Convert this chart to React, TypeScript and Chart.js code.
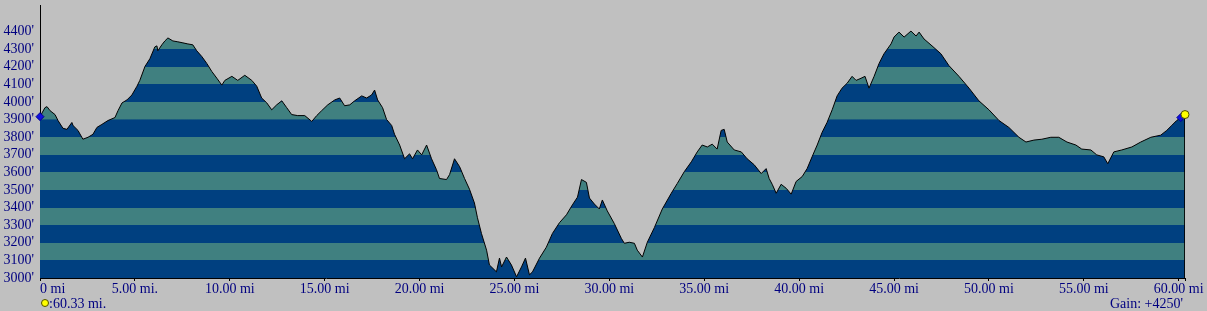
import React, { useEffect, useRef } from 'react';
import { Chart, registerables } from 'chart.js';

Chart.register(...registerables);

// Distance along the route (miles)
const miles = [
  0, 0.26, 0.37, 0.53, 0.79, 0.95, 1.21, 1.42, 1.68, 1.74, 2.0, 2.26, 2.53, 2.79, 3.0, 3.26, 3.58, 3.95,
  4.11, 4.32, 4.58, 4.84, 5.11, 5.26, 5.53, 5.79, 6.05, 6.16, 6.21, 6.42, 6.58, 6.74, 7.0, 7.26, 7.53, 7.79,
  8.05, 8.26, 8.53, 8.79, 9.05, 9.32, 9.58, 9.74, 10.11, 10.42, 10.79, 11.16, 11.42, 11.68, 11.95, 12.21,
  12.47, 12.74, 13.0, 13.26, 13.58, 13.95, 14.32, 14.58, 14.84, 15.16, 15.53, 15.79, 16.05, 16.32, 16.58,
  16.95, 17.21, 17.47, 17.63, 17.79, 18.05, 18.26, 18.53, 18.68, 18.95, 19.21, 19.47, 19.63, 19.89, 20.11,
  20.37, 20.63, 20.89, 21.05, 21.42, 21.58, 21.84, 22.11, 22.37, 22.63, 22.89, 23.05, 23.26, 23.53, 23.68,
  24.05, 24.21, 24.32, 24.58, 24.84, 25.11, 25.37, 25.58, 25.79, 25.95, 26.32, 26.68, 27.0, 27.37, 27.74,
  28.05, 28.32, 28.53, 28.79, 28.95, 29.21, 29.47, 29.63, 29.89, 30.26, 30.63, 30.79, 31.05, 31.32, 31.47,
  31.74, 32.0, 32.37, 32.79, 33.26, 33.58, 33.95, 34.32, 34.63, 34.89, 35.16, 35.42, 35.68, 35.89, 36.05,
  36.21, 36.58, 36.95, 37.26, 37.63, 38.0, 38.26, 38.42, 38.58, 38.79, 39.05, 39.32, 39.58, 39.84, 40.16,
  40.42, 40.68, 40.95, 41.21, 41.47, 41.74, 42.0, 42.26, 42.53, 42.79, 43.0, 43.26, 43.47, 43.68, 43.95,
  44.21, 44.47, 44.84, 45.0, 45.26, 45.53, 45.89, 46.16, 46.32, 46.58, 47.0, 47.47, 47.89, 48.42, 48.95,
  49.47, 50.0, 50.53, 51.05, 51.58, 51.95, 52.37, 52.79, 53.26, 53.68, 54.11, 54.58, 54.89, 55.37, 55.68,
  56.05, 56.26, 56.58, 57.0, 57.53, 58.0, 58.53, 59.05, 59.37, 59.63, 59.89, 60.11, 60.33,
];

// Elevation (feet)
const elevations = [
  3916, 3967, 3973, 3950, 3928, 3894, 3850, 3844, 3883, 3866, 3838, 3788, 3799, 3816, 3855, 3872, 3894, 3911,
  3950, 3994, 4011, 4039, 4089, 4122, 4201, 4245, 4312, 4318, 4290, 4324, 4346, 4363, 4346, 4341, 4335, 4329,
  4324, 4290, 4257, 4218, 4173, 4134, 4095, 4122, 4145, 4122, 4151, 4122, 4089, 4022, 3994, 3955,
  3983, 4006, 3967, 3928, 3922, 3922, 3889, 3922, 3950, 3983, 4011, 4022, 3978, 3983, 4006,
  4034, 4022, 4039, 4067, 4011, 3967, 3900, 3866, 3816, 3755, 3677, 3705, 3677, 3727, 3699,
  3755, 3677, 3615, 3565, 3559, 3587, 3677, 3632, 3565, 3504, 3426, 3342, 3253, 3158, 3074,
  3035, 3113, 3063, 3119, 3074, 3007, 3063, 3113, 3018, 3035, 3113, 3175, 3253, 3314, 3359,
  3415, 3459, 3559, 3543, 3454, 3420, 3392, 3443, 3381, 3309, 3225, 3197, 3203, 3197, 3158,
  3119, 3203, 3286, 3392, 3481, 3537, 3604, 3660, 3716, 3755, 3744, 3760, 3732, 3838, 3844,
  3772, 3727, 3716, 3677, 3643, 3593, 3621, 3565, 3532, 3481, 3532, 3509, 3476, 3548, 3576,
  3621, 3688, 3755, 3827, 3883, 3955, 4034, 4078, 4106, 4145, 4122, 4134, 4145, 4078, 4145,
  4218, 4273, 4329, 4368, 4396, 4368, 4402, 4374, 4396, 4357, 4318, 4273, 4206, 4145, 4078,
  4006, 3955, 3894, 3855, 3799, 3772, 3783, 3788, 3799, 3799, 3772, 3755, 3732, 3727, 3699,
  3688, 3649, 3716, 3727, 3744, 3772, 3799, 3811, 3838, 3866, 3894, 3911, 3928,
];

const xTickValues = [0, 5, 10, 15, 20, 25, 30, 35, 40, 45, 50, 55, 60];
const xTickLabels = [
  '0 mi', '5.00 mi.', '10.00 mi', '15.00 mi', '20.00 mi', '25.00 mi', '30.00 mi',
  '35.00 mi', '40.00 mi', '45.00 mi', '50.00 mi', '55.00 mi', '60.00 mi',
];
const yTickValues = [3000, 3100, 3200, 3300, 3400, 3500, 3600, 3700, 3800, 3900, 4000, 4100, 4200, 4300, 4400];
const yTickLabels = [
  "3000'", "3100'", "3200'", "3300'", "3400'", "3500'", "3600'", "3700'",
  "3800'", "3900'", "4000'", "4100'", "4200'", "4300'", "4400'",
];
const bandEdges = [3000, 3100, 3200, 3300, 3400, 3500, 3600, 3700, 3800, 3900, 4000, 4100, 4200, 4300, 4400, 4500, 4600];
const bandColors = ['#004080', '#408080'];
const yMin = 3000;
const yMax = 4550;
const distanceLabel = ':60.33 mi.';
const gainLabel = "Gain: +4250'";

const NAVY = '#000080';
const FONT_FAMILY = "'Liberation Serif', 'Times New Roman', serif";

export default function App() {
  const canvasRef = useRef<HTMLCanvasElement | null>(null);

  useEffect(() => {
    const canvas = canvasRef.current;
    if (!canvas) return;
    const xMax = miles[miles.length - 1];
    const last = miles.length - 1;

    const stripeFill = (c: any) => {
      const chart = c.chart;
      const { ctx, chartArea, scales } = chart;
      if (!chartArea || !scales.y) return bandColors[0];
      const ys = scales.y;
      const lo = bandEdges[0];
      const hi = bandEdges[bandEdges.length - 1];
      const pLo = ys.getPixelForValue(lo);
      const pHi = ys.getPixelForValue(hi);
      const g = ctx.createLinearGradient(0, pLo, 0, pHi);
      for (let i = 0; i < bandEdges.length - 1; i++) {
        const s = (bandEdges[i] - lo) / (hi - lo);
        const e = (bandEdges[i + 1] - lo) / (hi - lo);
        const col = bandColors[i % 2];
        g.addColorStop(s, col);
        g.addColorStop(Math.max(s, e - 0.0001), col);
      }
      return g;
    };

    const footerPlugin = {
      id: 'footerTexts',
      afterDraw(chart: any) {
        const { ctx, chartArea } = chart;
        ctx.save();
        ctx.font = `14px ${FONT_FAMILY}`;
        ctx.beginPath();
        ctx.arc(chartArea.left + 5, 303, 3.5, 0, Math.PI * 2);
        ctx.fillStyle = '#ffff00';
        ctx.fill();
        ctx.lineWidth = 1;
        ctx.strokeStyle = '#505000';
        ctx.stroke();
        ctx.fillStyle = NAVY;
        ctx.textBaseline = 'alphabetic';
        ctx.textAlign = 'left';
        ctx.fillText(distanceLabel, chartArea.left + 9, 308);
        ctx.textAlign = 'right';
        ctx.fillText(gainLabel, chartArea.right - 2, 308);
        ctx.restore();
      },
    };

    const chart = new Chart(canvas, {
      type: 'line',
      data: {
        datasets: [
          {
            data: [{ x: miles[last], y: elevations[last] }],
            showLine: false,
            pointStyle: 'circle',
            pointRadius: 4,
            pointBackgroundColor: '#ffff00',
            pointBorderColor: '#505000',
            pointBorderWidth: 1,
            clip: false,
            order: 1,
          } as any,
          {
            data: [
              { x: miles[0], y: elevations[0] },
              { x: miles[last - 1], y: elevations[last - 1] },
            ],
            showLine: false,
            pointStyle: 'rectRot',
            pointRadius: 4,
            pointBackgroundColor: '#1010e0',
            pointBorderColor: '#000090',
            pointBorderWidth: 1,
            clip: false,
            order: 2,
          } as any,
          {
            data: [
              { x: xMax, y: elevations[last] },
              { x: xMax, y: yMin },
            ],
            borderColor: '#000000',
            borderWidth: 1,
            pointRadius: 0,
            fill: false,
            order: 3,
          } as any,
          {
            data: miles.map((m, i) => ({ x: m, y: elevations[i] })),
            borderColor: '#000000',
            borderWidth: 1,
            pointRadius: 0,
            tension: 0,
            fill: 'start',
            backgroundColor: stripeFill,
            order: 4,
          } as any,
        ],
      },
      options: {
        animation: false,
        responsive: false,
        devicePixelRatio: 1,
        events: [],
        layout: { padding: { left: 0, top: 0, right: 22, bottom: 0 } },
        plugins: {
          legend: { display: false },
          tooltip: { enabled: false },
        },
        scales: {
          x: {
            type: 'linear',
            min: 0,
            max: xMax,
            afterBuildTicks: (s: any) => {
              s.ticks = [...xTickValues, xMax].map((v) => ({ value: v }));
            },
            afterFit: (s: any) => {
              s.height = 33;
              s.paddingLeft = 0;
              s.paddingRight = 0;
            },
            ticks: {
              autoSkip: false,
              maxRotation: 0,
              minRotation: 0,
              align: 'inner',
              padding: 0,
              color: NAVY,
              font: { family: FONT_FAMILY, size: 14 },
              callback: (_v: any, i: number) => (i < xTickLabels.length ? xTickLabels[i] : ''),
            },
            grid: { display: true, drawOnChartArea: false, drawTicks: true, tickLength: 3, color: '#000000' },
            border: { display: true, color: '#000000', width: 1 },
          } as any,
          y: {
            type: 'linear',
            min: yMin,
            max: yMax,
            afterBuildTicks: (s: any) => {
              s.ticks = yTickValues.map((v) => ({ value: v }));
            },
            afterFit: (s: any) => {
              s.width = 40;
              s.paddingTop = 0;
              s.paddingBottom = 0;
            },
            ticks: {
              autoSkip: false,
              padding: 6,
              color: NAVY,
              font: { family: FONT_FAMILY, size: 14 },
              callback: (_v: any, i: number) => yTickLabels[i],
            },
            grid: { display: false, drawTicks: false },
            border: { display: true, color: '#000000', width: 1 },
          } as any,
        },
      },
      plugins: [footerPlugin],
    });

    return () => chart.destroy();
  }, []);

  return (
    <div
      style={{
        position: 'fixed',
        left: 0,
        top: 0,
        width: 1207,
        height: 311,
        background: '#c0c0c0',
        overflow: 'hidden',
      }}
    >
      <canvas ref={canvasRef} width={1207} height={311} style={{ display: 'block' }} />
    </div>
  );
}
